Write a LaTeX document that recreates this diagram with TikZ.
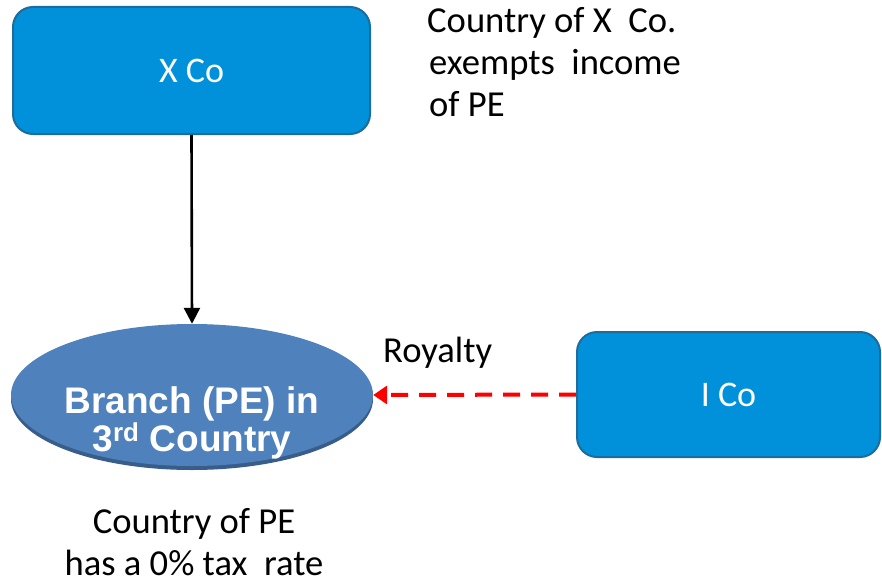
\documentclass[tikz,border=0pt]{standalone}
\usepackage{fontspec}
\setmainfont{Carlito}
\newfontfamily\boldsans{Liberation Sans}
\usetikzlibrary{arrows.meta,shapes.geometric}
\definecolor{boxblue}{RGB}{0,145,218}
\definecolor{boxedge}{RGB}{28,108,158}
\definecolor{peblue}{RGB}{79,129,189}
\definecolor{peshade}{RGB}{56,93,138}
\begin{document}
\begin{tikzpicture}[x=1pt,y=-1pt,
  company/.style={draw=boxedge,line width=2pt,fill=boxblue,rounded corners=20pt,
    text=white,font=\fontsize{36}{42}\selectfont,inner sep=0pt},
  note/.style={font=\fontsize{36.6}{42}\selectfont,inner sep=0pt,align=left},
  owns/.style={line width=2.6pt,-{Triangle[width=16pt,length=16pt]}},
  royalty/.style={red,line width=4pt,dash pattern=on 17pt off 11pt,
    -{Triangle[width=18pt,length=14pt]}}]
\useasboundingbox (0,0) rectangle (882,583);
\fill[white] (0,0) rectangle (882,583);

% companies
\node[company,minimum width=357pt,minimum height=127pt] (xco) at (191.5,70.5) {X Co};
\node[company,minimum width=303pt,minimum height=125pt] (ico) at (728.5,394.5) {I Co};

% permanent establishment
\node[ellipse,fill=peshade,minimum width=362pt,minimum height=142pt,inner sep=0pt]
  (peshadow) at (192,399) {};
\node[ellipse,fill=peblue,minimum width=362pt,minimum height=142pt,inner sep=0pt]
  (pe) at (192,395) {};
\node[text=white,inner sep=0pt,anchor=base,
  font=\boldsans\bfseries\fontsize{37}{37}\selectfont] (pename1) at (192,413)
  {Branch (PE) in};
\node[text=white,inner sep=0pt,anchor=base,
  font=\boldsans\bfseries\fontsize{37}{37}\selectfont] (pename2) at (192,451)
  {3\textsuperscript{rd} Country};

% connectors
\draw[owns] (xco.south) -- (pe.north);
\draw[royalty] (ico.west) -- (pe.east);
\node[note,anchor=base west] (roy) at (383,362) {Royalty};

% notes
\node[note,anchor=base west] (xnote1) at (427,33) {Country of X\ \ Co.};
\node[note,anchor=base west] (xnote2) at (429,75) {exempts\ \ income};
\node[note,anchor=base west] (xnote3) at (429,117) {of PE};
\node[note,anchor=base] (penote1) at (194,533) {Country of PE};
\node[note,anchor=base] (penote2) at (194,575) {has a 0\% tax\ \ rate};
\end{tikzpicture}
\end{document}
